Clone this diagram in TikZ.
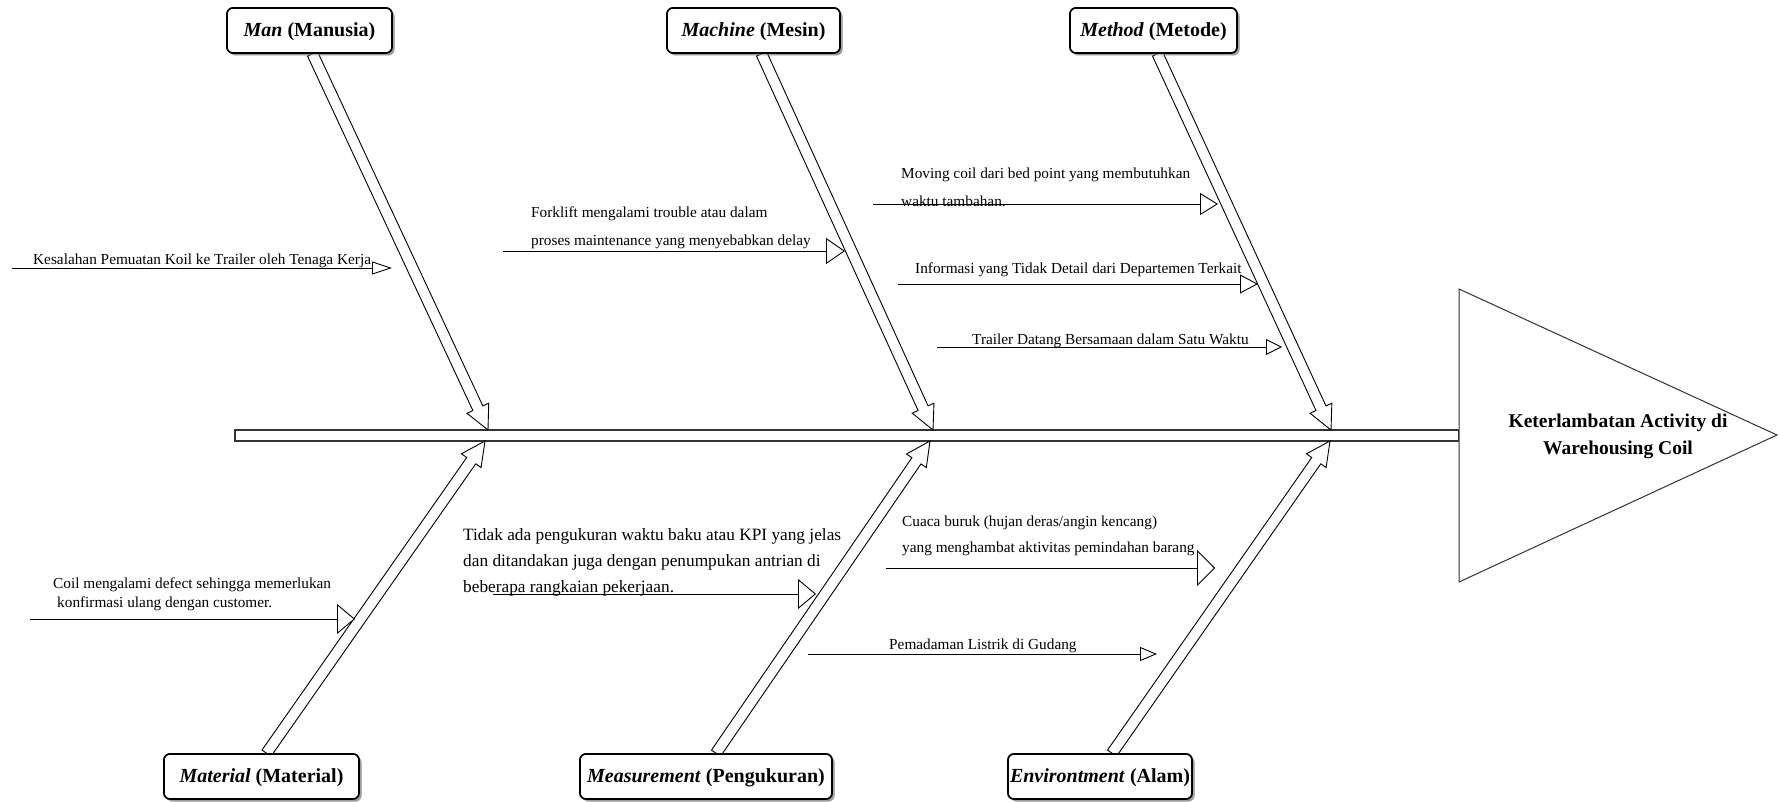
\documentclass[tikz,border=0pt]{standalone}
\usepackage{fontspec}
\setmainfont{Liberation Serif}
\usetikzlibrary{calc,arrows.meta,shadows}

\tikzset{
  bone/.style={draw=black, fill=white, line width=0.9pt, line join=miter},
  spine/.style={draw=black!80, line width=1.5pt},
  brarrow/.style n args={2}{draw=black, line width=0.9pt, -{Triangle[fill=white,length=#1,width=#2]}},
  lbl/.style={anchor=base west, inner sep=0pt, font=\fontsize{15.3}{18}\selectfont},
  biglbl/.style={anchor=base west, inner sep=0pt, font=\fontsize{17.3}{20}\selectfont},
  catbox/.style={draw=black, rounded corners=6pt, line width=1.6pt, fill=white,
    minimum height=45pt, inner xsep=0pt, inner ysep=0pt, text height=17pt, text depth=4.5pt,
    font=\fontsize{20}{24}\selectfont\bfseries,
    drop shadow={shadow xshift=2.5pt, shadow yshift=-2.5pt, fill=black!45, opacity=0.6}},
}

\newcommand{\fbone}[2]{%
  \coordinate (hb) at ($(#2)!24pt!(#1)$);
  \draw[bone] ($(#1)!5.5pt!90:(#2)$) -- ($(hb)!5.5pt!-90:(#1)$) -- ($(hb)!12pt!-90:(#1)$)
    -- (#2) -- ($(hb)!12pt!90:(#1)$) -- ($(hb)!5.5pt!90:(#1)$) -- ($(#1)!5.5pt!-90:(#2)$) -- cycle;
}

\begin{document}
\begin{tikzpicture}[x=1pt,y=-1pt]
\useasboundingbox (0,0) rectangle (1779,802);

% spine
\coordinate (spL) at (235,430);
\coordinate (spR) at (1459,441);
\draw[spine] (spL) rectangle (spR);

% effect
\coordinate (t1) at (1459,289);
\coordinate (t2) at (1777,435);
\coordinate (t3) at (1459,582);
\draw[draw=black!80, line width=1pt, fill=white] (t1) -- (t2) -- (t3) -- cycle;
\node[align=center, font=\fontsize{19.5}{27}\selectfont\bfseries, inner sep=0pt] (effect) at (1618,436)
  {Keterlambatan Activity di\\Warehousing Coil};

% category boxes
\node[catbox, minimum width=165pt] (man) at (309.5,30.5) {\textit{Man} (Manusia)};
\node[catbox, minimum width=173pt] (machine) at (753.5,30.5) {\textit{Machine} (Mesin)};
\node[catbox, minimum width=167pt] (method) at (1153.5,30.5) {\textit{Method} (Metode)};
\node[catbox, minimum width=195pt] (material) at (261.5,776.5) {\textit{Material} (Material)};
\node[catbox, minimum width=252pt] (measure) at (706,776.5) {\textit{Measurement} (Pengukuran)};
\node[catbox, minimum width=184pt] (env) at (1100,776.5) {\textit{Environtment} (Alam)};

% bone ends
\coordinate (manS) at ([xshift=3pt]man.south);
\coordinate (machS) at ([xshift=8pt]machine.south);
\coordinate (methS) at ([xshift=4pt]method.south);
\coordinate (matN) at ([xshift=5pt]material.north);
\coordinate (meaN) at ([xshift=10pt]measure.north);
\coordinate (envN) at ([xshift=12pt]env.north);
\coordinate (manT) at (488,430);
\coordinate (machT) at (933,430);
\coordinate (methT) at (1331,430);
\coordinate (matT) at (485,441);
\coordinate (meaT) at (930,441);
\coordinate (envT) at (1330,441);

\fbone{manS}{manT}
\fbone{machS}{machT}
\fbone{methS}{methT}
\fbone{matN}{matT}
\fbone{meaN}{meaT}
\fbone{envN}{envT}

% redraw boxes on top of bone starts
\node[catbox, minimum width=165pt] at (man) {\textit{Man} (Manusia)};
\node[catbox, minimum width=173pt] at (machine) {\textit{Machine} (Mesin)};
\node[catbox, minimum width=167pt] at (method) {\textit{Method} (Metode)};
\node[catbox, minimum width=195pt] at (material) {\textit{Material} (Material)};
\node[catbox, minimum width=252pt] at (measure) {\textit{Measurement} (Pengukuran)};
\node[catbox, minimum width=184pt] at (env) {\textit{Environtment} (Alam)};

% cause arrows
\coordinate (a1) at (12,268);   \coordinate (a2) at (392,268);
\coordinate (b1) at (503,251);  \coordinate (b2) at (845,251);
\coordinate (c1) at (873,204);  \coordinate (c2) at (1218,204);
\coordinate (d1) at (898,284);  \coordinate (d2) at (1258,284);
\coordinate (e1) at (937,347);  \coordinate (e2) at (1282,347);
\coordinate (f1) at (30,619);   \coordinate (f2) at (355,619);
\coordinate (g1) at (493,594);  \coordinate (g2) at (816,594);
\coordinate (h1) at (886,568);  \coordinate (h2) at (1215,568);
\coordinate (i1) at (808,654);  \coordinate (i2) at (1157,654);

\draw[brarrow={20pt}{13pt}] (a1) -- (a2);
\draw[brarrow={19pt}{26pt}] (b1) -- (b2);
\draw[brarrow={18pt}{22pt}] (c1) -- (c2);
\draw[brarrow={18pt}{19pt}] (d1) -- (d2);
\draw[brarrow={16pt}{16pt}] (e1) -- (e2);
\draw[brarrow={18pt}{30pt}] (f1) -- (f2);
\draw[brarrow={18pt}{30pt}] (g1) -- (g2);
\draw[brarrow={18pt}{36pt}] (h1) -- (h2);
\draw[brarrow={17pt}{14pt}] (i1) -- (i2);

% cause texts
\node[lbl] (ta) at (33,265) {Kesalahan Pemuatan Koil ke Trailer oleh Tenaga Kerja};
\node[lbl] (tb1) at (531,218) {Forklift mengalami trouble atau dalam};
\node[lbl] (tb2) at (531,246) {proses maintenance yang menyebabkan delay};
\node[lbl] (tc1) at (901,179) {Moving coil dari bed point yang membutuhkan};
\node[lbl] (tc2) at (901,207) {waktu tambahan.};
\node[lbl] (td) at (915,273) {Informasi yang Tidak Detail dari Departemen Terkait};
\node[lbl] (te) at (972,344) {Trailer Datang Bersamaan dalam Satu Waktu};
\node[lbl] (tf1) at (53,588) {Coil mengalami defect sehingga memerlukan};
\node[lbl] (tf2) at (57,607) {konfirmasi ulang dengan customer.};
\node[biglbl] (tg1) at (463,540) {Tidak ada pengukuran waktu baku atau KPI yang jelas};
\node[biglbl] (tg2) at (463,566) {dan ditandakan juga dengan penumpukan antrian di};
\node[biglbl] (tg3) at (463,592) {beberapa rangkaian pekerjaan.};
\node[lbl] (th1) at (902,526) {Cuaca buruk (hujan deras/angin kencang)};
\node[lbl] (th2) at (902,552) {yang menghambat aktivitas pemindahan barang};
\node[lbl] (ti) at (889,649) {Pemadaman Listrik di Gudang};

\end{tikzpicture}
\end{document}
